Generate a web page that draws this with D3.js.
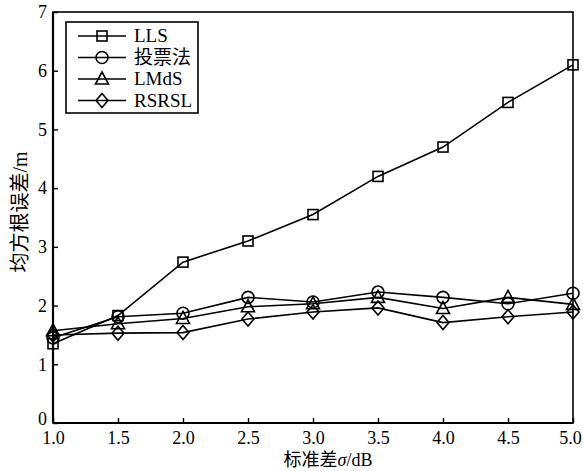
<!DOCTYPE html>
<html>
<head>
<meta charset="utf-8">
<script src="https://cdn.jsdelivr.net/npm/d3@7"></script>
<style>
  body { margin: 0; background: #fff; }
  svg { font-family: "Liberation Serif", "Noto Sans CJK SC", serif; }
</style>
</head>
<body>
<svg id="chart" width="583" height="471"></svg>
<script>
const sigma = [1.0, 1.5, 2.0, 2.5, 3.0, 3.5, 4.0, 4.5, 5.0];
const lls = [1.35, 1.83, 2.74, 3.10, 3.55, 4.20, 4.70, 5.46, 6.10];
const vote = [1.45, 1.81, 1.87, 2.14, 2.06, 2.23, 2.14, 2.03, 2.21];
const lmds = [1.57, 1.69, 1.78, 1.98, 2.03, 2.14, 1.95, 2.14, 2.02];
const rsrsl = [1.50, 1.53, 1.54, 1.77, 1.89, 1.96, 1.71, 1.81, 1.89];
const names = ["LLS", "投票法", "LMdS", "RSRSL"];
const xTicks = [1.0, 1.5, 2.0, 2.5, 3.0, 3.5, 4.0, 4.5, 5.0];
const yTicks = [0, 1, 2, 3, 4, 5, 6, 7];

const series = [lls, vote, lmds, rsrsl];
const shapes = ["square", "circle", "triangle", "diamond"];

const margin = { left: 53, right: 10, top: 12, bottom: 48 };
const width = 583, height = 471;

const svg = d3.select("#chart");

const x = d3.scaleLinear().domain([1, 5]).range([margin.left, width - margin.right]);
const y = d3.scaleLinear().domain([0, 7]).range([height - margin.bottom, margin.top]);

// marker drawing
function marker(g, shape, cx, cy) {
  if (shape === "square") {
    g.append("rect").attr("x", cx - 5).attr("y", cy - 5).attr("width", 10).attr("height", 10);
  } else if (shape === "circle") {
    g.append("circle").attr("cx", cx).attr("cy", cy).attr("r", 6);
  } else if (shape === "triangle") {
    g.append("path").attr("d", `M${cx},${cy - 7}L${cx + 6.5},${cy + 5}L${cx - 6.5},${cy + 5}Z`);
  } else {
    g.append("path").attr("d", `M${cx},${cy - 7}L${cx + 6},${cy}L${cx},${cy + 7}L${cx - 6},${cy}Z`);
  }
}

const line = d3.line().x((d, i) => x(sigma[i])).y(d => y(d));

series.forEach((s, k) => {
  svg.append("path")
    .datum(s)
    .attr("d", line)
    .attr("fill", "none")
    .attr("stroke", "#000")
    .attr("stroke-width", 1.6);
  const mg = svg.append("g").attr("fill", "none").attr("stroke", "#000").attr("stroke-width", 1.6);
  s.forEach((v, i) => marker(mg, shapes[k], x(sigma[i]), y(v)));
});

// frame
svg.append("rect")
  .attr("x", x(1)).attr("y", y(7))
  .attr("width", x(5) - x(1)).attr("height", y(0) - y(7))
  .attr("fill", "none").attr("stroke", "#000").attr("stroke-width", 1.6);
svg.append("line")
  .attr("x1", x(1)).attr("x2", x(5)).attr("y1", y(0)).attr("y2", y(0))
  .attr("stroke", "#000").attr("stroke-width", 2.2);
svg.append("line")
  .attr("x1", x(1)).attr("x2", x(1)).attr("y1", y(0)).attr("y2", y(7))
  .attr("stroke", "#000").attr("stroke-width", 2.2);

// axes with inward ticks
const xAxis = svg.append("g")
  .attr("transform", `translate(0,${y(0)})`)
  .call(d3.axisBottom(x).tickValues(xTicks).tickFormat(d3.format(".1f")).tickSizeInner(-5).tickSizeOuter(0).tickPadding(8));
const yAxis = svg.append("g")
  .attr("transform", `translate(${x(1)},0)`)
  .call(d3.axisLeft(y).tickValues(yTicks).tickFormat(d3.format("d")).tickSizeInner(-5).tickSizeOuter(0).tickPadding(6));

[xAxis, yAxis].forEach(a => {
  a.select(".domain").remove();
  a.selectAll(".tick line").attr("stroke", "#000").attr("stroke-width", 1.4);
  a.selectAll(".tick text")
    .attr("fill", "#000")
    .attr("font-size", 18)
    .attr("font-family", "Liberation Serif, serif");
});
// corner labels: keep "0" clear of "1.0", and "5.0" inside the page
xAxis.selectAll(".tick text").filter(d => d === 5).attr("dx", -3);
yAxis.selectAll(".tick text").filter(d => d === 0).attr("y", -4);

// axis titles
const xt = svg.append("text")
  .attr("x", 328).attr("y", 466)
  .attr("text-anchor", "middle")
  .attr("font-size", 18)
  .attr("fill", "#000");
xt.append("tspan").text("标准差");
xt.append("tspan").attr("font-style", "italic").attr("font-family", "Liberation Serif, serif").text("σ");
xt.append("tspan").attr("font-family", "Liberation Serif, serif").text("/dB");

svg.append("text")
  .attr("transform", `translate(27,212) rotate(-90)`)
  .attr("text-anchor", "middle")
  .attr("font-size", 20)
  .attr("fill", "#000")
  .text("均方根误差/m");

// legend
const lg = svg.append("g");
lg.append("rect")
  .attr("x", 66).attr("y", 22).attr("width", 132).attr("height", 91)
  .attr("fill", "#fff").attr("stroke", "#000").attr("stroke-width", 1.6);
names.forEach((n, k) => {
  const ly = 36 + k * 21.5;
  lg.append("line").attr("x1", 78).attr("x2", 126).attr("y1", ly).attr("y2", ly)
    .attr("stroke", "#000").attr("stroke-width", 1.6);
  const mg = lg.append("g").attr("fill", "none").attr("stroke", "#000").attr("stroke-width", 1.6);
  marker(mg, shapes[k], 102, ly);
  lg.append("text")
    .attr("x", 134).attr("y", ly + 6)
    .attr("font-size", 19)
    .attr("fill", "#000")
    .text(n);
});
</script>
</body>
</html>
